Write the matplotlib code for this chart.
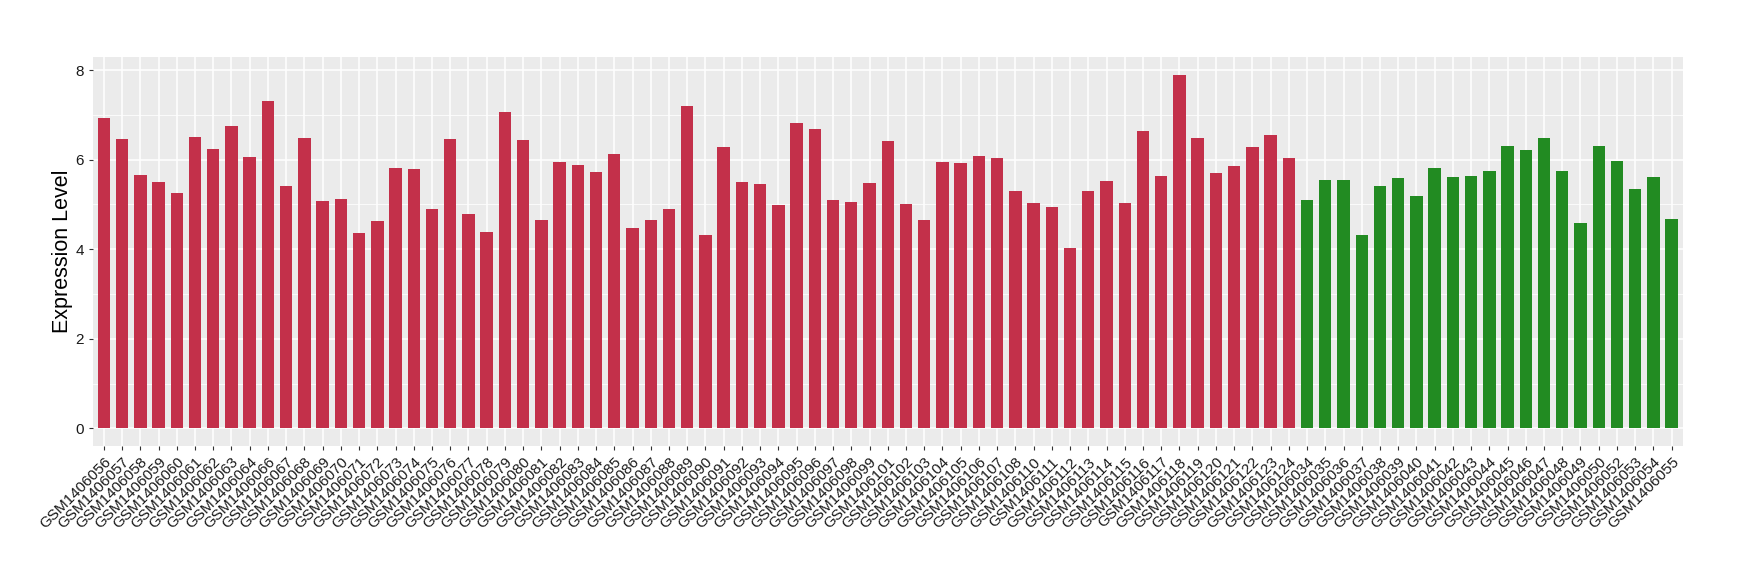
import matplotlib
matplotlib.use("Agg")
import matplotlib.pyplot as plt
import numpy as np

plt.rcParams['font.family'] = ['Liberation Sans', 'DejaVu Sans']

red_samples = ["GSM1406056", "GSM1406057", "GSM1406058", "GSM1406059", "GSM1406060", "GSM1406061",
               "GSM1406062", "GSM1406063", "GSM1406064", "GSM1406066", "GSM1406067", "GSM1406068",
               "GSM1406069", "GSM1406070", "GSM1406071", "GSM1406072", "GSM1406073", "GSM1406074",
               "GSM1406075", "GSM1406076", "GSM1406077", "GSM1406078", "GSM1406079", "GSM1406080",
               "GSM1406081", "GSM1406082", "GSM1406083", "GSM1406084", "GSM1406085", "GSM1406086",
               "GSM1406087", "GSM1406088", "GSM1406089", "GSM1406090", "GSM1406091", "GSM1406092",
               "GSM1406093", "GSM1406094", "GSM1406095", "GSM1406096", "GSM1406097", "GSM1406098",
               "GSM1406099", "GSM1406101", "GSM1406102", "GSM1406103", "GSM1406104", "GSM1406105",
               "GSM1406106", "GSM1406107", "GSM1406108", "GSM1406110", "GSM1406111", "GSM1406112",
               "GSM1406113", "GSM1406114", "GSM1406115", "GSM1406116", "GSM1406117", "GSM1406118",
               "GSM1406119", "GSM1406120", "GSM1406121", "GSM1406122", "GSM1406123", "GSM1406124"]
red_values = [6.94, 6.45, 5.65, 5.49, 5.25, 6.50, 6.23, 6.74, 6.05, 7.32, 5.41, 6.48,
              5.07, 5.12, 4.36, 4.62, 5.81, 5.78, 4.89, 6.45, 4.78, 4.38, 7.06, 6.43,
              4.65, 5.94, 5.87, 5.72, 6.12, 4.47, 4.65, 4.89, 7.19, 4.31, 6.28, 5.49,
              5.45, 4.98, 6.81, 6.68, 5.09, 5.05, 5.47, 6.41, 5.00, 4.65, 5.94, 5.92,
              6.07, 6.03, 5.29, 5.03, 4.94, 4.02, 5.29, 5.52, 5.03, 6.63, 5.63, 7.90,
              6.48, 5.70, 5.85, 6.28, 6.54, 6.03]

green_samples = ["GSM1406034", "GSM1406035", "GSM1406036", "GSM1406037", "GSM1406038", "GSM1406039",
                 "GSM1406040", "GSM1406041", "GSM1406042", "GSM1406043", "GSM1406044", "GSM1406045",
                 "GSM1406046", "GSM1406047", "GSM1406048", "GSM1406049", "GSM1406050", "GSM1406052",
                 "GSM1406053", "GSM1406054", "GSM1406055"]
green_values = [5.09, 5.54, 5.54, 4.31, 5.41, 5.58, 5.18, 5.81, 5.61, 5.63, 5.74, 6.30,
                6.21, 6.48, 5.74, 4.58, 6.30, 5.96, 5.34, 5.61, 4.67]

red_color = "#C3304A"
green_color = "#228B22"

labels = red_samples + green_samples
values = red_values + green_values
colors = [red_color] * len(red_values) + [green_color] * len(green_values)
x = np.arange(len(labels))

fig = plt.figure(figsize=(17.4, 5.8), dpi=100)
ax = fig.add_axes([0.0534, 0.231, 0.9136, 0.671])
ax.set_facecolor("#EBEBEB")

ax.bar(x, values, width=0.68, color=colors, zorder=3)

ax.set_xlim(-0.6, len(labels) - 0.4)
ymax = max(values)
ax.set_ylim(-0.05 * ymax, ymax * 1.05)

ax.set_yticks([0, 2, 4, 6, 8])
ax.set_yticks([1, 3, 5, 7], minor=True)
ax.set_xticks(x)
ax.set_xticklabels(labels, rotation=45, ha="right", va="top", rotation_mode="anchor", fontsize=11)
ax.tick_params(axis="y", labelsize=11)
ax.tick_params(which="major", length=3, color="#333333", width=0.8, labelcolor="#1A1A1A")
ax.tick_params(which="minor", length=0)

ax.grid(which="major", color="white", linewidth=1.1, zorder=0)
ax.grid(which="minor", axis="y", color="white", linewidth=0.55, zorder=0)
ax.set_axisbelow(True)
for s in ax.spines.values():
    s.set_visible(False)

ax.set_ylabel("Expression Level", fontsize=15.5, labelpad=2)

fig.savefig("out.png", dpi=100)
